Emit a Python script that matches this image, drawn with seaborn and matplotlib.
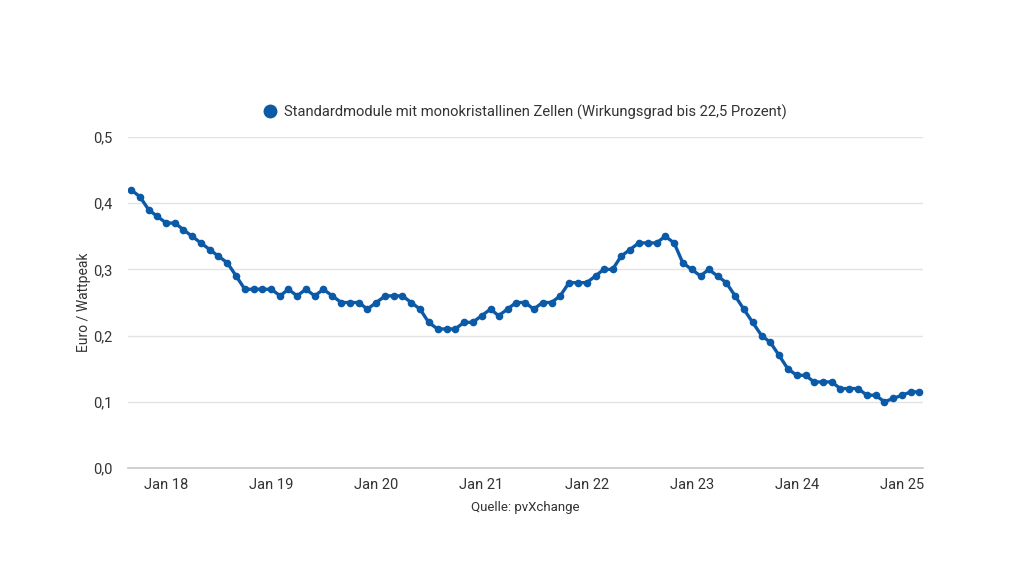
import matplotlib
matplotlib.use("Agg")
import matplotlib.pyplot as plt
import matplotlib.dates as mdates
import matplotlib.ticker as mticker
import seaborn as sns
import pandas as pd

start_month = "2017-09-01"
prices = [
    0.42, 0.41, 0.39, 0.38,
    0.37, 0.37, 0.36, 0.35, 0.34, 0.33, 0.32, 0.31, 0.29, 0.27, 0.27, 0.27,
    0.27, 0.26, 0.27, 0.26, 0.27, 0.26, 0.27, 0.26, 0.25, 0.25, 0.25, 0.24,
    0.25, 0.26, 0.26, 0.26, 0.25, 0.24, 0.22, 0.21, 0.21, 0.21, 0.22, 0.22,
    0.23, 0.24, 0.23, 0.24, 0.25, 0.25, 0.24, 0.25, 0.25, 0.26, 0.28, 0.28,
    0.28, 0.29, 0.30, 0.30, 0.32, 0.33, 0.34, 0.34, 0.34, 0.35, 0.34, 0.31,
    0.30, 0.29, 0.30, 0.29, 0.28, 0.26, 0.24, 0.22, 0.20, 0.19, 0.17, 0.15,
    0.14, 0.14, 0.13, 0.13, 0.13, 0.12, 0.12, 0.12, 0.11, 0.11, 0.10, 0.105,
    0.11, 0.115, 0.115,
]
series_name = "Standardmodule mit monokristallinen Zellen (Wirkungsgrad bis 22,5 Prozent)"
y_ticks = [0.0, 0.1, 0.2, 0.3, 0.4, 0.5]
y_label = "Euro / Wattpeak"
source = "Quelle: pvXchange"

dates = pd.date_range(start_month, periods=len(prices), freq="MS")
df = pd.DataFrame({"Monat": dates, "Preis": prices, "Serie": series_name})

sns.set_theme(style="white")
plt.rcParams["font.family"] = ["Roboto", "DejaVu Sans"]

color = "#0b5aa8"
fig = plt.figure(figsize=(10.24, 5.76), dpi=100)
ax = fig.add_axes([128 / 1024, 1 - 468 / 576, (923 - 128) / 1024, (468 - 137) / 576])

sns.lineplot(data=df, x="Monat", y="Preis", hue="Serie", palette=[color], ax=ax,
             marker="o", markersize=5.5, markeredgewidth=0, linewidth=2.4)

ax.set_ylim(0, 0.5)
ax.set_xlim(pd.Timestamp("2017-08-21"), pd.Timestamp("2025-03-15"))
ax.set_yticks(y_ticks)
ax.yaxis.set_major_formatter(mticker.FuncFormatter(lambda v, p: f"{v:.1f}".replace(".", ",")))
ax.xaxis.set_major_locator(mdates.YearLocator(month=1, day=1))
ax.xaxis.set_major_formatter(mdates.DateFormatter("Jan %y"))

ax.grid(axis="y", color="#e3e3e3", linewidth=1)
ax.grid(axis="x", visible=False)
for s in ["top", "right", "left"]:
    ax.spines[s].set_visible(False)
ax.spines["bottom"].set_color("#c8c8c8")
ax.spines["bottom"].set_linewidth(1.2)
ax.tick_params(axis="both", length=0, labelsize=10.5, colors="#333333")
ax.tick_params(axis="y", pad=11)
ax.tick_params(axis="x", pad=7)

ax.set_xlabel("")
ax.set_ylabel(y_label, fontsize=10, color="#333333", labelpad=2)

leg = ax.legend(loc="center", bbox_to_anchor=(0.5, 1.075), frameon=False,
                fontsize=10.6, handlelength=0.8, handletextpad=0.6, labelcolor="#333333")
for h in leg.legend_handles:
    h.set_linestyle("none")
    h.set_marker("o")
    h.set_markersize(10)

ax.text(0.5, -0.118, source, transform=ax.transAxes, ha="center", va="center",
        fontsize=9.5, color="#333333")

fig.savefig("out.png", dpi=100)
